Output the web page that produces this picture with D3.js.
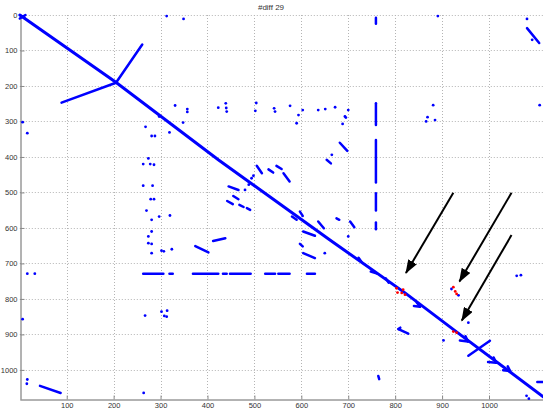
<!DOCTYPE html>
<html>
<head>
<meta charset="utf-8">
<script src="https://cdn.jsdelivr.net/npm/d3@7/dist/d3.min.js"></script>
<style>
  html, body { margin: 0; padding: 0; background: #fff; overflow: hidden; }
  svg { display: block; font-family: "Liberation Sans", Arial, sans-serif; }
</style>
</head>
<body>
<svg id="chart" width="543" height="409"></svg>
<script>
// Tick values
const xTicks = [100, 200, 300, 400, 500, 600, 700, 800, 900, 1000];
const yTicks = [0, 100, 200, 300, 400, 500, 600, 700, 800, 900, 1000];

// Main alignment path (x index, y index)
const diagonalPath = [[0,0],[204,189],[423,408],[661,634],[821,783],[928,890],[1122,1082]];

// Short matched runs: [x1, y1, x2, y2]
const runs = [
  [205,191,261,83],[205,191,89,247],
  [0,10,12,0],
  [505,425,516,446],[530,435,540,444],[547,425,558,434],[562,446,575,469],
  [445,483,466,493],[455,510,466,519],[442,524,454,533],[468,535,477,541],[484,544,491,549],
  [580,568,590,577],[597,554,603,566],[604,610,629,622],[636,582,648,601],
  [597,645,603,652],[604,671,629,685],[654,408,663,418],[682,360,698,383],
  [675,573,681,577],[704,582,713,598],[807,885,828,898],[807,885,811,881],[956,960,1002,918],
  [1081,37,1107,79],[43,1045,87,1065],[374,651,402,669],[412,637,438,629],[764,1017,766,1026],
  [1103,1034,1125,1034],
  // side branches along the main path
  [728,695,722,684],[760,728,748,723],[786,754,780,742],
  [853,822,846,810],[853,822,840,820],[955,920,950,905],[955,920,938,917],
  [1015,980,1010,965],[1015,980,998,978],[1045,1003,1040,990],[1045,1003,1030,1001]
];

// Horizontal run at y = 729
const rowY = 729;
const rowSpans = [[263,306],[319,326],[369,423],[433,441],[448,492],[523,544],[551,575],[612,629]];

// Vertical run at x = 759
const colX = 759;
const colSpans = [[8,25],[249,310],[352,472],[502,551],[585,604]];

// Isolated matches
const dots = [
  [313,3],[349,11],[891,3],[1081,11],[1092,70],[3,3],[9,6],
  [6,302],[16,333],[16,729],[32,729],[6,857],[16,1027],[15,1039],[264,1065],
  [331,255],[357,265],[357,273],[423,261],[439,249],[440,262],[441,272],
  [504,248],[502,270],[542,263],[544,272],[576,256],[603,268],[594,282],[590,305],
  [636,268],[651,265],[268,315],[281,341],[288,341],[319,331],[348,303],[297,286],
  [274,404],[263,420],[278,420],[286,422],[263,481],[283,481],[279,519],[286,519],
  [270,551],[281,577],[297,568],[320,565],[281,610],[274,624],[274,643],[281,645],
  [281,671],[302,664],[307,666],[324,660],[498,453],[494,460],[480,493],[488,478],
  [650,671],[672,260],[693,286],[695,289],[700,268],[688,307],[665,394],
  [881,254],[869,288],[866,300],[885,296],[1108,254],[700,624],[1059,735],[1068,733],
  [903,917],[956,867],[1080,1073],[1085,1081],[920,772],[935,790],
  [267,847],[302,836],[314,833],[308,848],[313,850]
];

// Differing matches
const diffDots = [[803,770],[817,774],[805,782],[814,783],[821,788],[924,767],[928,779],[931,786],[924,892],[931,895]];

// Annotation arrows: [[fromX, fromY], [toX, toY]]
const arrows = [[[924,501],[823,727]], [[1048,501],[937,751]], [[1048,620],[942,861]]];

const titleText = "#diff 29";

const svg = d3.select("#chart");
const x = d3.scaleLinear().domain([0, 1140]).range([19.8, 19.8 + 1140 * 0.4692]);
const y = d3.scaleLinear().domain([0, 1082]).range([15, 399]);

const blue = "#0000ff";

// grid
const grid = svg.append("g").attr("stroke", "#b4b4b4").attr("stroke-width", 1).attr("stroke-dasharray", "1,2");
grid.selectAll("line.v").data(xTicks).join("line")
  .attr("x1", d => Math.round(x(d)) + 0.5).attr("x2", d => Math.round(x(d)) + 0.5)
  .attr("y1", y(0)).attr("y2", y(1082));
grid.selectAll("line.h").data(yTicks).join("line")
  .attr("y1", d => Math.round(y(d)) + 0.5).attr("y2", d => Math.round(y(d)) + 0.5)
  .attr("x1", x(0)).attr("x2", 543);

// axes
const fmt = d3.format("d");
const xAxis = d3.axisBottom(x).tickValues(xTicks).tickFormat(fmt).tickSizeInner(-4).tickSizeOuter(0).tickPadding(3);
const yAxis = d3.axisLeft(y).tickValues(yTicks).tickFormat(fmt).tickSizeInner(-4).tickSizeOuter(0).tickPadding(3);
const gx = svg.append("g").attr("transform", `translate(0,${Math.round(y(1082)) + 0.5})`).call(xAxis);
const gy = svg.append("g").attr("transform", `translate(${Math.round(x(0)) + 0.5},0)`).call(yAxis);
[gx, gy].forEach(g => {
  g.select(".domain").attr("stroke", "#666");
  g.selectAll(".tick line").attr("stroke", "#888");
  g.selectAll(".tick text").attr("fill", "#333").attr("font-size", 7.5);
});

// data layer
const plot = svg.append("g");
const line = d3.line().x(d => x(d[0])).y(d => y(d[1]));

plot.append("path").datum(diagonalPath)
  .attr("d", line).attr("fill", "none").attr("stroke", blue).attr("stroke-width", 3).attr("stroke-linecap", "round");

plot.selectAll("line.run").data(runs).join("line")
  .attr("x1", d => x(d[0])).attr("y1", d => y(d[1])).attr("x2", d => x(d[2])).attr("y2", d => y(d[3]))
  .attr("stroke", blue).attr("stroke-width", 2.5).attr("stroke-linecap", "round");

plot.selectAll("line.row").data(rowSpans).join("line")
  .attr("x1", d => x(d[0])).attr("x2", d => x(d[1])).attr("y1", y(rowY)).attr("y2", y(rowY))
  .attr("stroke", blue).attr("stroke-width", 2.5).attr("stroke-linecap", "round");

plot.selectAll("line.col").data(colSpans).join("line")
  .attr("y1", d => y(d[0])).attr("y2", d => y(d[1])).attr("x1", x(colX)).attr("x2", x(colX))
  .attr("stroke", blue).attr("stroke-width", 2.5).attr("stroke-linecap", "round");

plot.selectAll("circle.dot").data(dots).join("circle")
  .attr("cx", d => x(d[0])).attr("cy", d => y(d[1])).attr("r", 1.4).attr("fill", blue);

plot.selectAll("circle.diff").data(diffDots).join("circle")
  .attr("cx", d => x(d[0])).attr("cy", d => y(d[1])).attr("r", 1.4).attr("fill", "#ff0000");

// title
svg.append("text").attr("x", 271).attr("y", 10).attr("text-anchor", "middle")
  .attr("font-size", 8).attr("fill", "#333").text(titleText);

// arrows
svg.append("defs").append("marker")
  .attr("id", "head").attr("markerUnits", "userSpaceOnUse")
  .attr("viewBox", "0 0 14 10").attr("refX", 13).attr("refY", 5)
  .attr("markerWidth", 14).attr("markerHeight", 10).attr("orient", "auto")
  .append("path").attr("d", "M0,0L14,5L0,10Z").attr("fill", "#000");

svg.selectAll("line.arrow").data(arrows).join("line")
  .attr("x1", d => x(d[0][0])).attr("y1", d => y(d[0][1]))
  .attr("x2", d => x(d[1][0])).attr("y2", d => y(d[1][1]))
  .attr("stroke", "#000").attr("stroke-width", 2).attr("marker-end", "url(#head)");
</script>
</body>
</html>
